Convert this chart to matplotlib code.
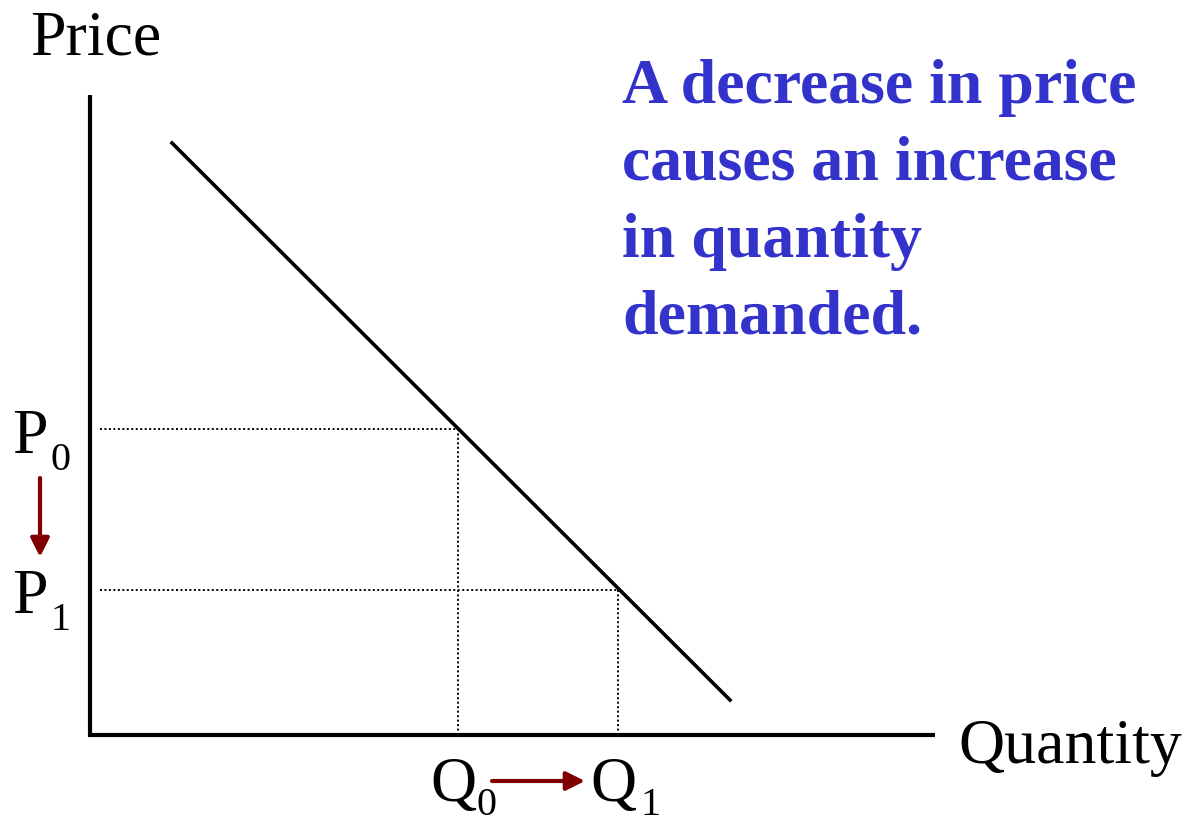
import matplotlib.pyplot as plt

# demand curve end points (quantity, price)
demand_q = [0.82, 6.40]
demand_p = [5.92, 0.35]

# the two price / quantity pairs on the curve
p0, q0 = 3.06, 3.68
p1, q1 = 1.45, 5.28

axis_top = 6.40
axis_right = 8.45

note = ['A decrease in price', 'causes an increase', 'in quantity', 'demanded.']

arrow_col = '#800000'
blue = '#3333CC'
serif = 'Liberation Serif'

fig = plt.figure(figsize=(11.85, 8.22), dpi=100)
ax = fig.add_axes([0, 0, 1, 1])
ax.set_xlim(-0.9, 10.95)
ax.set_ylim(-0.87, 7.35)
ax.axis('off')

# axes
ax.plot([0, 0], [0, axis_top], color='black', lw=3, solid_capstyle='butt')
ax.plot([-0.02, axis_right], [0, 0], color='black', lw=3, solid_capstyle='butt')

# demand line
ax.plot(demand_q, demand_p, color='black', lw=2.6)

# dotted guides
for p, q in [(p0, q0), (p1, q1)]:
    ax.plot([0.1, q], [p, p], color='black', lw=1.4, ls=(0, (1, 1.3)))
    ax.plot([q, q], [0, p], color='black', lw=1.4, ls=(0, (1, 1.3)))

ax.text(-0.6, 6.80, 'Price', fontsize=46, family=serif, va='baseline')
ax.text(8.68, -0.28, 'Quantity', fontsize=46, family=serif, va='baseline')

# letter + subscript labels
def label(x, y, letter, sub, subx, drop=0.17):
    ax.text(x, y, letter, fontsize=46, family=serif, va='baseline')
    ax.text(subx, y - drop, sub, fontsize=29, family=serif, va='baseline')

label(-0.78, 2.82, 'P', '0', -0.40)
label(-0.78, 1.22, 'P', '1', -0.40)
label(3.40, -0.66, 'Q', '0', 3.87, 0.14)
label(5.00, -0.66, 'Q', '1', 5.50, 0.14)

for i, line in enumerate(note):
    ax.text(5.32, 6.32 - 0.77 * i, line, fontsize=46, family=serif,
            weight='bold', color=blue, va='baseline')

arrow = dict(arrowstyle='-|>', color=arrow_col, lw=3, mutation_scale=28,
             shrinkA=0, shrinkB=0)
ax.annotate('', xy=(-0.5, 1.78), xytext=(-0.5, 2.57), arrowprops=arrow)
ax.annotate('', xy=(4.95, -0.46), xytext=(4.02, -0.46), arrowprops=arrow)

fig.savefig('out.png', dpi=100)
